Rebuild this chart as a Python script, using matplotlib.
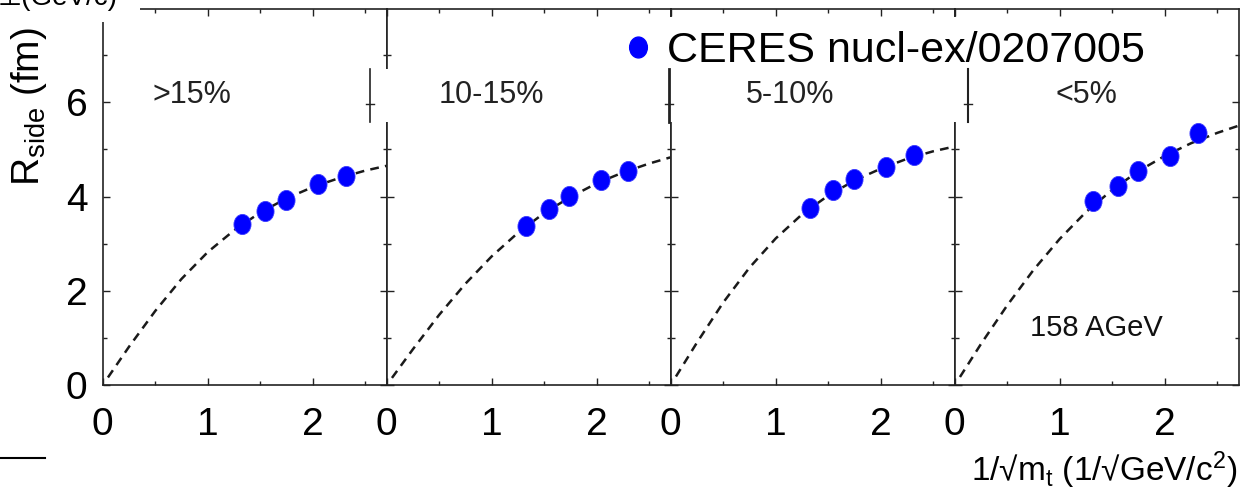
import matplotlib
matplotlib.use('Agg')
import matplotlib.pyplot as plt
from matplotlib.path import Path
from matplotlib.transforms import Affine2D
from matplotlib.patches import Rectangle
from matplotlib.ticker import MultipleLocator, FormatStrFormatter

plt.rcParams['font.family'] = ['Liberation Sans', 'DejaVu Sans']
plt.rcParams['mathtext.fontset'] = 'custom'
plt.rcParams['mathtext.rm'] = 'Liberation Sans'
plt.rcParams['mathtext.it'] = 'Liberation Sans:italic'

# centrality classes, one panel each
centralities = ['>15%', '10-15%', '5-10%', '<5%']

# CERES points: 1/sqrt(mt) and R_side (fm)
inv_sqrt_mt = [
    [1.33, 1.55, 1.75, 2.05, 2.32],
    [1.33, 1.55, 1.74, 2.04, 2.30],
    [1.33, 1.55, 1.75, 2.05, 2.32],
    [1.32, 1.56, 1.75, 2.05, 2.32],
]
r_side = [
    [3.42, 3.69, 3.92, 4.26, 4.44],
    [3.38, 3.73, 4.01, 4.35, 4.55],
    [3.76, 4.14, 4.37, 4.62, 4.88],
    [3.91, 4.22, 4.55, 4.85, 5.34],
]

# dashed fit curves
fit_x = [0.05, 0.25, 0.5, 0.75, 1.0, 1.25, 1.5, 1.75, 2.0, 2.25, 2.5, 2.7]
fit_r = [
    [0.16, 0.81, 1.57, 2.25, 2.82, 3.28, 3.66, 3.96, 4.20, 4.39, 4.55, 4.65],
    [0.15, 0.76, 1.49, 2.15, 2.73, 3.23, 3.65, 3.99, 4.28, 4.51, 4.70, 4.83],
    [0.18, 0.90, 1.75, 2.49, 3.11, 3.62, 4.02, 4.34, 4.59, 4.80, 4.96, 5.06],
    [0.17, 0.87, 1.69, 2.44, 3.10, 3.67, 4.14, 4.54, 4.86, 5.13, 5.35, 5.50],
]
label_pos = [(0.85, 6.16), (1.00, 6.16), (1.14, 6.16), (1.25, 6.16)]

W, H = 1251, 500
fig = plt.figure(figsize=(W / 100, H / 100), dpi=100)

# slightly tall ellipse marker like the original dots
dot = Path.unit_circle().transformed(Affine2D().scale(0.85, 1.0))

lefts = [102.7, 386.7, 670.7, 954.7]
axes = []
for i in range(4):
    ax = fig.add_axes([lefts[i] / W, 115 / H, 284 / W, 376 / H])
    ax.plot(fit_x, fit_r[i], color='#1a1a1a', lw=1.8, ls=(0, (3.5, 2.5)))
    ax.plot(inv_sqrt_mt[i], r_side[i], ls='none', marker=dot, ms=14.5,
            color='#0000ff', mec='#3a3aff', mew=0.6)
    ax.set_xlim(0, 2.705)
    ax.set_ylim(0, 7.98)
    ax.xaxis.set_major_locator(MultipleLocator(1))
    ax.xaxis.set_minor_locator(MultipleLocator(0.5))
    ax.yaxis.set_major_locator(MultipleLocator(2))
    ax.yaxis.set_minor_locator(MultipleLocator(1))
    ax.xaxis.set_major_formatter(FormatStrFormatter('%d'))
    ax.yaxis.set_major_formatter(FormatStrFormatter('%d'))
    ax.tick_params(which='both', direction='in', top=True, right=True,
                   color='#222222', width=1.0)
    ax.tick_params(which='major', length=5)
    ax.tick_params(which='minor', length=3)
    ax.tick_params(axis='x', labelsize=28, pad=16)
    ax.tick_params(axis='y', labelsize=28, pad=11)
    if i > 0:
        ax.tick_params(axis='y', labelleft=False)
    for s in ax.spines.values():
        s.set_color('#222222')
        s.set_linewidth(1.2)
    axes.append(ax)

# overlay in pixel coordinates for the pasted-on pieces of the original
ov = fig.add_axes([0, 0, 1, 1], zorder=10)
ov.set_xlim(0, W)
ov.set_ylim(H, 0)
ov.axis('off')
ov.patch.set_alpha(0)

ov.add_patch(Rectangle((112, 69), 1231 - 112, 53, fc='white', ec='none'))
ov.add_patch(Rectangle((395, 17), 1231 - 395, 52, fc='white', ec='none'))
ov.add_patch(Rectangle((0, 0), 140, 22, fc='white', ec='none'))

for x, lw in [(370, 1.2), (669, 2.0), (968, 1.5)]:
    ov.plot([x, x], [69, 122], color='#222222', lw=lw)
    ov.plot([x - 4, x + 4], [103.5, 103.5], color='#222222', lw=1.0)

for i, lab in enumerate(centralities):
    ov.text(label_pos[i][0], label_pos[i][1], lab, transform=axes[i].transData,
            ha='center', va='center', fontsize=22, color='#222222')

ov.text(1.35, 1.21, '158 AGeV', transform=axes[3].transData,
        ha='center', va='center', fontsize=21, color='#111111')

ov.plot([638], [47], ls='none', marker=dot, ms=15, color='#0000ff')
ov.text(667, 62, 'CERES nucl-ex/0207005', va='baseline', ha='left',
        fontsize=31, color='black', fontstretch='condensed',
        family=['Liberation Sans Narrow', 'Liberation Sans', 'DejaVu Sans'])

ov.text(-2, 5, '\u22a5(GeV/c)', va='baseline', ha='left', fontsize=20,
        family=['Liberation Sans', 'DejaVu Sans'])
ov.plot([0, 45], [458, 458], color='black', lw=1.5)

ov.text(1237, 470, '1/\u221am$_{\\rm t}$ (1/\u221aGeV/c$^{2}$)', ha='right',
        va='center', fontsize=24, color='black')
ov.text(29, 107, 'R$_{\\rm side}$ (fm)', rotation=90, ha='center', va='center',
        fontsize=28, color='black')

fig.savefig('out.png', dpi=100)
